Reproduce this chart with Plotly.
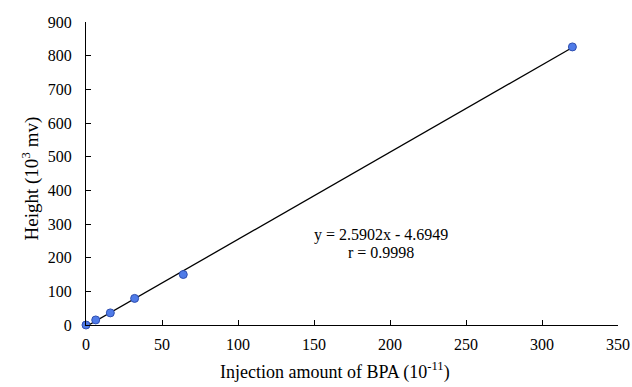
import plotly.graph_objects as go

x_vals = [0, 6.4, 16, 32, 64, 320]
y_vals = [0, 15, 36, 79, 150, 826]
slope = 2.5902
intercept = -4.6949
r_value = 0.9998
line_x = [0, 320]
line_y = [slope * v + intercept for v in line_x]

x_title = "Injection amount of BPA (10<sup>-11</sup>)"
y_title = "Height (10<sup>3</sup> mv)"

font_family = "Liberation Serif"

fig = go.Figure()
fig.add_trace(go.Scatter(x=line_x, y=line_y, mode="lines",
                         line=dict(color="black", width=1.3), showlegend=False))
fig.add_trace(go.Scatter(x=x_vals, y=y_vals, mode="markers",
                         marker=dict(size=8, color="#4F7BE8",
                                     line=dict(color="#2F4FB0", width=1)),
                         showlegend=False, cliponaxis=False))

fig.add_annotation(x=194, y=267, xref="x", yref="y",
                   text=f"y = {slope}x - {abs(intercept)}", showarrow=False,
                   font=dict(family=font_family, size=16, color="black"))
fig.add_annotation(x=194, y=214, xref="x", yref="y",
                   text=f"r = {r_value}", showarrow=False,
                   font=dict(family=font_family, size=16, color="black"))

# axis titles
fig.add_annotation(x=0.468, y=-0.152, xref="paper", yref="paper",
                   xanchor="center", yanchor="middle",
                   text=x_title, showarrow=False,
                   font=dict(family=font_family, size=18, color="black"))
fig.add_annotation(x=-0.1034, y=0.4835, xref="paper", yref="paper",
                   xanchor="center", yanchor="middle", textangle=-90,
                   text=y_title, showarrow=False,
                   font=dict(family=font_family, size=19, color="black"))

fig.update_layout(
    template="none",
    width=632, height=387,
    margin=dict(l=86, r=14, t=22, b=62),
    paper_bgcolor="white", plot_bgcolor="white",
    font=dict(family=font_family, size=16, color="black"),
    xaxis=dict(range=[0, 350], dtick=50, showgrid=False, zeroline=False,
               automargin=False,
               showline=True, linecolor="black", linewidth=1,
               ticks="inside", ticklen=5, tickcolor="black",
               ticklabelstandoff=5,
               tickfont=dict(family=font_family, size=16)),
    yaxis=dict(range=[0, 900], dtick=100, showgrid=False, zeroline=False,
               automargin=False,
               showline=True, linecolor="black", linewidth=1,
               ticks="inside", ticklen=5, tickcolor="black",
               ticklabelstandoff=10,
               tickfont=dict(family=font_family, size=16)),
)

fig.write_html("out.html")
